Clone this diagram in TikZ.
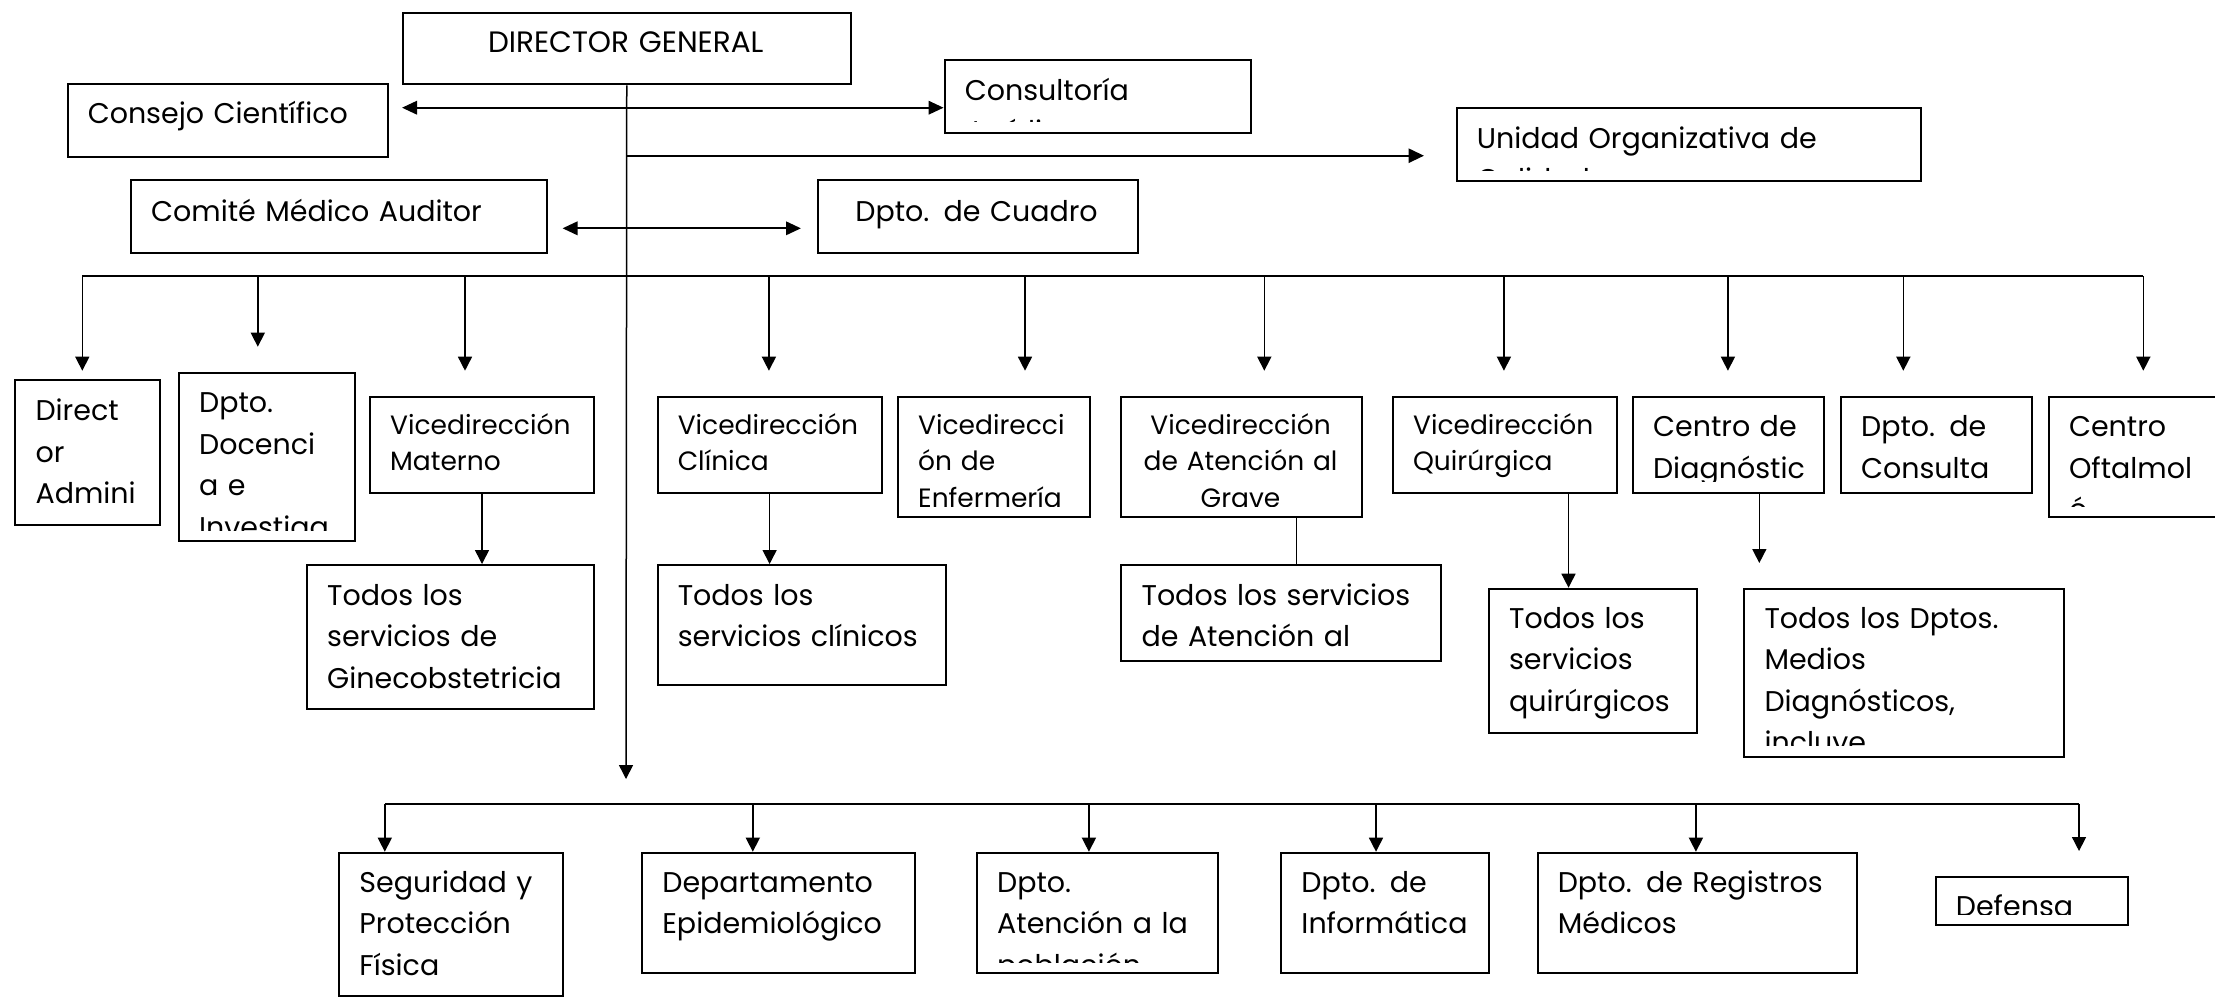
\documentclass[tikz,border=0pt]{standalone}
\usepackage{fontspec}
\setmainfont{Poppins}
\usetikzlibrary{arrows.meta}
\tikzset{
  boxst/.style={draw, line width=0.6pt, inner sep=0pt, anchor=north west},
  bigf/.style={font=\fontsize{8.55}{12.45}\selectfont},
  smallf/.style={font=\fontsize{7.95}{11}\selectfont},
  dgf/.style={font=\fontsize{8.85}{11}\selectfont},
  txtl/.style={inner sep=0pt, text width=10cm, align=left, anchor=base west},
  txtc/.style={inner sep=0pt, text width=10cm, align=center, anchor=base},
  arr/.style={line width=0.45pt, -{Triangle[length=4.2pt,width=4.2pt]}},
  harr/.style={line width=0.7pt, -{Triangle[length=4.6pt,width=4.2pt]}},
  darr/.style={line width=0.7pt, {Triangle[length=4.5pt,width=4pt]}-{Triangle[length=4.5pt,width=4pt]}},
  ln/.style={line width=0.45pt},
  trunk/.style={line width=0.45pt},
  bus/.style={line width=0.7pt},
}
% name, x1, y1, x2, y2, font style, baseline offset, text
\newcommand\lbox[8]{%
  \node[boxst, minimum width={(#4-#2)*0.3pt}, minimum height={(#5-#3)*0.3pt}] (#1) at (#2,#3) {};
  \begin{scope}
    \clip (#2,#3) rectangle (#4,#5-10);
    \node[txtl,#6] (#1-t) at (#2+20.5,#3+#7) {#8};
  \end{scope}}
\newcommand\cbox[8]{%
  \node[boxst, minimum width={(#4-#2)*0.3pt}, minimum height={(#5-#3)*0.3pt}] (#1) at (#2,#3) {};
  \begin{scope}
    \clip (#2,#3) rectangle (#4,#5-10);
    \node[txtc,#6] (#1-t) at ({(#2+#4)/2},#3+#7) {#8};
  \end{scope}}
\begin{document}
\begin{tikzpicture}[x=0.3pt,y=-0.3pt]
\fill[white] (0,0) rectangle (2215,996);
\useasboundingbox (0,0) rectangle (2215,996);

% top level
\cbox{dg}{402}{11.7}{849.5}{83.3}{dgf}{40.7}{DIRECTOR GENERAL}
\lbox{cc}{66.6}{83.3}{386.5}{155.7}{bigf}{40}{Consejo Científico}
\lbox{cj}{943.6}{59.3}{1249.5}{131.7}{bigf}{40.7}{Consultoría\\Jurídica}
\lbox{uo}{1455.6}{107.3}{1919.8}{180}{bigf}{41}{Unidad Organizativa de\\Calidad}
\lbox{cma}{130}{179.3}{545.6}{251.7}{bigf}{42}{Comité Médico Auditor}
\cbox{cua}{816.6}{179.3}{1136.5}{251.7}{bigf}{42}{Dpto. de Cuadro}

% row 2
\lbox{dir}{14.4}{379.3}{158.8}{524}{bigf}{41.4}{Direct\\or\\Admini}
\lbox{doc}{178}{371.7}{354}{540}{bigf}{41}{Dpto.\\Docenci\\a e\\Investiga}
\lbox{mat}{369}{395.7}{593}{491.7}{smallf}{38.3}{Vicedirección\\Materno}
\lbox{cli}{656.6}{395.7}{880.6}{491.7}{smallf}{38.3}{Vicedirección\\Clínica}
\lbox{enf}{897}{395.7}{1088.8}{516}{smallf}{38.3}{Vicedirecci\\ón de\\Enfermería}
\cbox{gra}{1120.4}{395.7}{1360.7}{516}{smallf}{38.3}{Vicedirección\\de Atención al\\Grave}
\lbox{qui}{1391.9}{395.7}{1615.9}{491.7}{smallf}{38.3}{Vicedirección\\Quirúrgica}
\lbox{cdg}{1631.9}{395.7}{1823.3}{491.7}{bigf}{41}{Centro de\\Diagnóstic}
\lbox{con}{1839.9}{395.7}{2031.3}{491.7}{bigf}{41}{Dpto. de\\Consulta}
\lbox{oft}{2047.8}{395.7}{2260}{516}{bigf}{41}{Centro\\Oftalmol\\ó}

% row 3
\lbox{gin}{306}{564}{593}{707.7}{bigf}{41}{Todos los\\servicios de\\Ginecobstetricia}
\lbox{scl}{656.6}{564}{944.9}{684}{bigf}{41}{Todos los\\servicios clínicos}
\lbox{sag}{1120.4}{564}{1440.3}{660}{bigf}{41}{Todos los servicios\\de Atención al}
\lbox{squ}{1487.9}{587.7}{1695.9}{731.7}{bigf}{40.5}{Todos los\\servicios\\quirúrgicos}
\lbox{smd}{1743.3}{587.7}{2063.3}{755.7}{bigf}{40.5}{Todos los Dptos.\\Medios\\Diagnósticos,\\incluye}

% bottom row
\lbox{seg}{338.3}{851.7}{561.5}{995.3}{bigf}{40.5}{Seguridad y\\Protección\\Física}
\lbox{epi}{641.2}{851.7}{913.5}{972}{bigf}{40.5}{Departamento\\Epidemiológico}
\lbox{pob}{976}{851.7}{1216.5}{972}{bigf}{40.5}{Dpto.\\Atención a la\\población}
\lbox{inf}{1280.3}{851.7}{1488}{972}{bigf}{40.5}{Dpto. de\\Informática}
\lbox{reg}{1536.6}{851.7}{1855.8}{972}{bigf}{40.5}{Dpto. de Registros\\Médicos}
\lbox{def}{1934.7}{875.7}{2127}{924}{bigf}{40.5}{Defensa}

% trunk
\coordinate (tr) at (626,779);
\draw[trunk, -{Triangle[length=4.2pt,width=4.2pt]}] (dg.south) -- (tr);

% top arrows
\coordinate (a1L) at (402,107.7);
\draw[darr] (a1L) -- (a1L -| cj.west);
\coordinate (a2S) at (626,155.7);
\coordinate (a2E) at (1424,155.7);
\draw[harr] (a2S) -- (a2E);
\coordinate (a3L) at (562.5,228.3);
\coordinate (a3R) at (801,228.3);
\draw[darr] (a3L) -- (a3R);

% bus 1
\coordinate (b1L) at (82.3,276);
\coordinate (b1R) at (2143.3,276);
\draw[bus] (b1L) -- (b1R);
\coordinate (d1) at (82.3,370.7);
\coordinate (d2) at (257.8,346.7);
\coordinate (d3) at (465,370.7);
\coordinate (d4) at (768.9,370.7);
\coordinate (d5) at (1025,370.7);
\coordinate (d6) at (1264.3,370.7);
\coordinate (d7) at (1503.9,370.7);
\coordinate (d8) at (1727.9,370.7);
\coordinate (d9) at (1903.3,370.7);
\coordinate (d10) at (2143.3,370.7);
\foreach \d in {d1,d2,d3,d4,d5,d6,d7,d8,d9,d10}
  \draw[arr] (\d |- b1L) -- (\d);

% row 2 -> row 3
\draw[arr] (mat.south) -- (mat.south |- gin.north);
\draw[arr] (cli.south) -- (cli.south |- scl.north);
\draw[ln] (gra.south -| 1296.4,0) -- (sag.north -| 1296.4,0);
\draw[arr] (qui.south -| 1568.5,0) -- (squ.north -| 1568.5,0);
\coordinate (cdgT) at (1759.3,563);
\draw[arr] (cdg.south -| cdgT) -- (cdgT);

% bus 2
\coordinate (b2L) at (384.8,803.7);
\coordinate (b2R) at (2079,803.7);
\draw[bus] (b2L) -- (b2R);
\draw[arr] (b2L) -- (seg.north -| b2L);
\draw[arr] (752.8,803.7) -- (epi.north -| 752.8,0);
\draw[arr] (1088.9,803.7) -- (pob.north -| 1088.9,0);
\draw[arr] (1376,803.7) -- (inf.north -| 1376,0);
\draw[arr] (1695.9,803.7) -- (reg.north -| 1695.9,0);
\coordinate (defT) at (2079,851);
\draw[arr] (b2R) -- (defT);
\end{tikzpicture}
\end{document}
